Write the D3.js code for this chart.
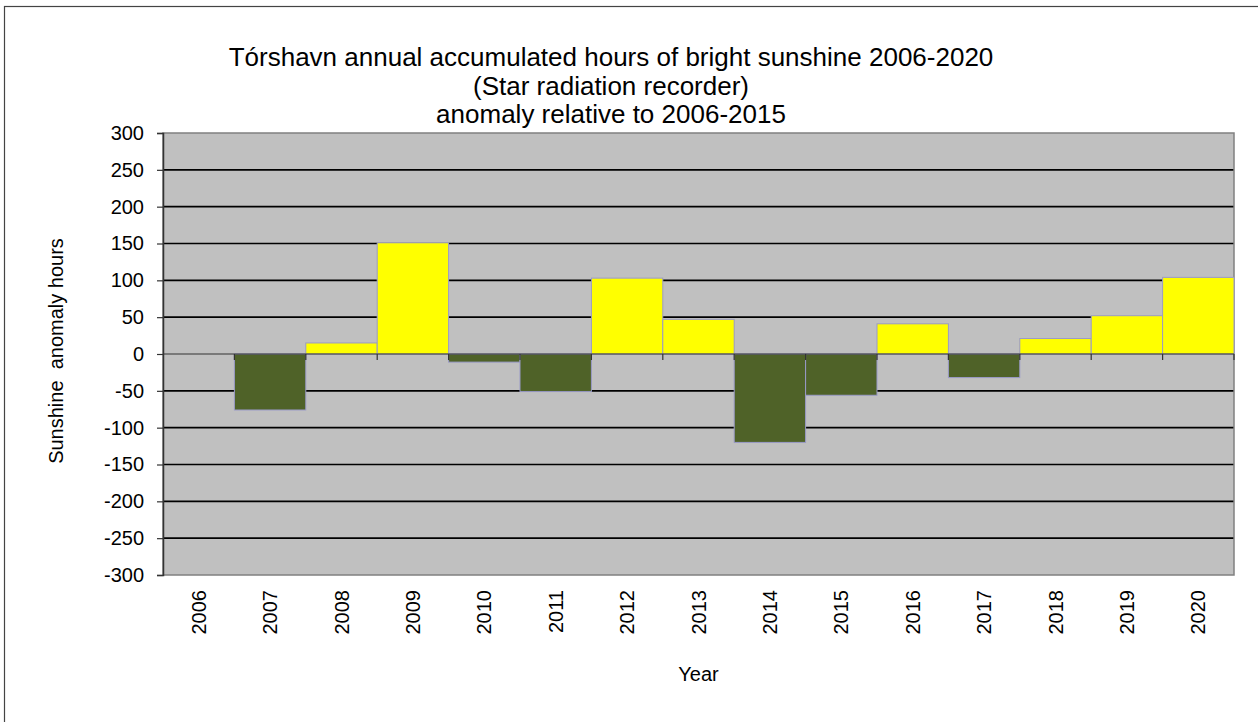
<!DOCTYPE html>
<html><head><meta charset="utf-8">
<script src="https://cdn.jsdelivr.net/npm/d3@7"></script>
<style>body{margin:0;background:#fff}svg{display:block}text{font-family:"Liberation Sans",Arial,sans-serif;fill:#000}</style>
</head><body>
<script>
const years = ["2006","2007","2008","2009","2010","2011","2012","2013","2014","2015","2016","2017","2018","2019","2020"];
const anomaly = [0,-76,15,151,-11,-51,103,47,-120,-56,41,-32,21,52,104];
const yTicks = [-300,-250,-200,-150,-100,-50,0,50,100,150,200,250,300];
const titleLines = ["Tórshavn annual accumulated hours of bright sunshine 2006-2020","(Star radiation recorder)","anomaly relative to 2006-2015"];

const W=1258,H=722;
const L=163,R=1234,T=133,B=575;
const svg=d3.select("body").append("svg").attr("width",W).attr("height",H);
svg.append("rect").attr("x",4.5).attr("y",6.5).attr("width",1400).attr("height",900).attr("fill","#fff").attr("stroke","#444").attr("stroke-width",1.2);

const x=d3.scaleBand().domain(years).range([L,R]).padding(0);
const y=d3.scaleLinear().domain([-300,300]).range([B,T]);

svg.append("rect").attr("x",L).attr("y",T).attr("width",R-L).attr("height",B-T).attr("fill","#c0c0c0");
// grid
svg.append("g").selectAll("line").data(yTicks.filter(d=>d!==0 && d!==300 && d!==-300)).join("line")
  .attr("x1",L).attr("x2",R).attr("y1",d=>y(d)).attr("y2",d=>y(d)).attr("stroke","#000").attr("stroke-width",1.6);
// plot border
svg.append("rect").attr("x",L).attr("y",T).attr("width",R-L).attr("height",B-T).attr("fill","none").attr("stroke","#808080").attr("stroke-width",1.5);

// bars
svg.append("g").selectAll("rect").data(years).join("rect")
  .attr("x",d=>x(d)).attr("width",x.bandwidth())
  .attr("y",(d,i)=>y(Math.max(0,anomaly[i]))).attr("height",(d,i)=>Math.abs(y(anomaly[i])-y(0)))
  .attr("fill",(d,i)=>anomaly[i]>=0?"#ffff00":"#4f6228")
  .attr("stroke","#9a9ac8").attr("stroke-width",1);

// zero axis with ticks at category boundaries
const xAxis=svg.append("g").attr("transform",`translate(0,${y(0)})`);
xAxis.append("line").attr("x1",L).attr("x2",R).attr("stroke","#333").attr("stroke-width",1.2);
xAxis.selectAll("line.tk").data(years.slice(1).concat(["end"])).join("line").attr("class","tk")
  .attr("x1",(d,i)=>i<years.length-1?x(d):R).attr("x2",(d,i)=>i<years.length-1?x(d):R)
  .attr("y1",0).attr("y2",6).attr("stroke","#333").attr("stroke-width",1.2);

// y axis
const yAxis=d3.axisLeft(y).tickValues(yTicks).tickSize(6).tickPadding(13).tickFormat(d=>String(d));
const ya=svg.append("g").attr("transform",`translate(${L},0)`).call(yAxis);
ya.attr("font-size",20).attr("font-family","Liberation Sans, Arial, sans-serif");
ya.select(".domain").attr("stroke","#333").attr("stroke-width",1.5);
ya.selectAll(".tick line").attr("stroke","#333").attr("stroke-width",1.2);
ya.selectAll("text").attr("fill","#000");

// x labels
svg.append("g").selectAll("text").data(years).join("text")
  .attr("transform",d=>`translate(${x(d)+x.bandwidth()/2+7},590) rotate(-90)`)
  .attr("text-anchor","end").attr("font-size",20).text(d=>d);

// titles
svg.append("g").selectAll("text").data(titleLines).join("text")
  .attr("x",611).attr("y",(d,i)=>66+i*28.5).attr("text-anchor","middle").attr("font-size",26).text(d=>d);
svg.append("text").attr("x",(L+R)/2).attr("y",681).attr("text-anchor","middle").attr("font-size",20).text("Year");
svg.append("text").attr("transform",`translate(63,351) rotate(-90)`).attr("text-anchor","middle").attr("font-size",20).style("white-space","pre").text("Sunshine  anomaly hours");
</script>
</body></html>
